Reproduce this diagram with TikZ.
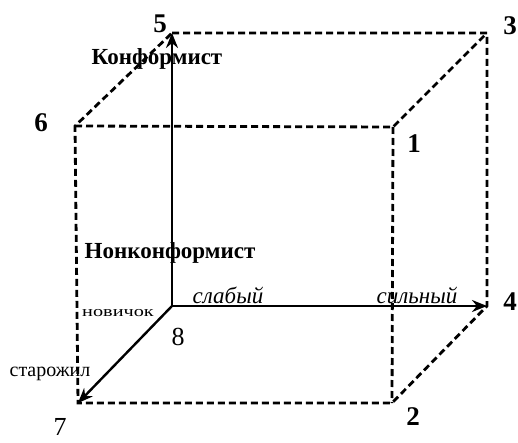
\documentclass[tikz,border=0pt]{standalone}
\usepackage{fontspec}
\setmainfont{Liberation Serif}
\newfontfamily\widefont[FakeStretch=1.35]{Liberation Serif}
\usetikzlibrary{arrows.meta,positioning}
\begin{document}
\begin{tikzpicture}[x=1pt,y=-1pt,every node/.style={inner sep=0pt},
ed/.style={line width=2.8pt,dash pattern=on 7pt off 4pt},
ax/.style={line width=2.4pt,-{Stealth[length=15pt,width=12pt]}},
num/.style={font=\fontsize{27}{27}\selectfont\bfseries},
numl/.style={font=\fontsize{26}{26}\selectfont},
lbl/.style={font=\fontsize{23}{23}\selectfont\bfseries},
sl/.style={font=\fontsize{23}{23}\selectfont\itshape},
sm/.style={font=\fontsize{20}{20}\selectfont}]
\useasboundingbox (0,0) rectangle (518,443);
\coordinate (v5) at (172,33);\coordinate (v3) at (487,33);
\coordinate (v6) at (75,126);\coordinate (v1) at (393,127);
\coordinate (v8) at (172,306);\coordinate (v4) at (487,306);
\coordinate (v7) at (78,403);\coordinate (v2) at (392,403);
\draw[ed] (v5)--(v3)--(v4)--(v2)--(v7)--(v6)--cycle;
\draw[ed] (v6)--(v1)--(v3);\draw[ed] (v1)--(v2);
\draw[ax] (v8)--(v5);\draw[ax] (v8)--(v4);\draw[ax] (v8)--(v7);
\node[num] (n5) at (160,24) {5};\node[num] (n3) at (510,26) {3};
\node[num] (n6) at (41,123) {6};\node[num] (n1) at (414,144) {1};
\node[num] (n4) at (510,302) {4};\node[num] (n2) at (413,417) {2};
\node[numl] (n7) at (60,427) {7};\node[numl] (n8) at (178,337) {8};
\node[lbl] (konf) at (157,59) {Конформист};
\node[lbl] (nonk) at (170,253) {Нонконформист};
\node[sl] (weak) at (228,295) {слабый};
\node[sl] (strong) at (417,295) {сильный};
\node[font=\fontsize{15}{15}\selectfont\widefont] (nov) at (118,313) {новичок};
\node[sm] (old) at (50,374) {старожил};
\end{tikzpicture}
\end{document}
